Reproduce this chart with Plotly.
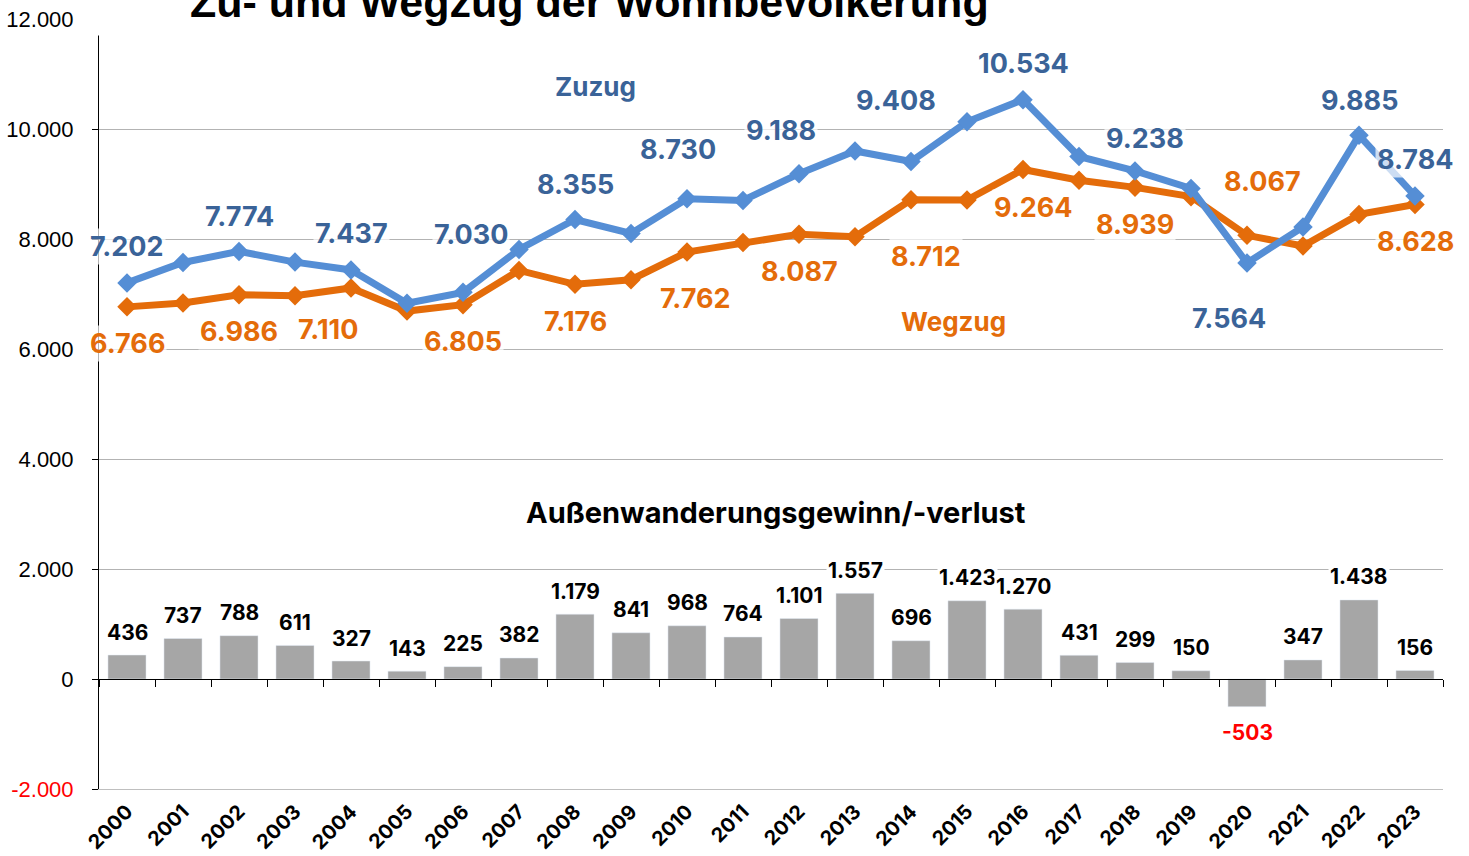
import plotly.graph_objects as go

years = [str(y) for y in range(2000, 2024)]
zuzug = [7202, 7573, 7774, 7580, 7437, 6833, 7030, 7810, 8355, 8100, 8730, 8700,
         9188, 9600, 9408, 10130, 10534, 9500, 9238, 8920, 7564, 8220, 9885, 8784]
wegzug = [6766, 6836, 6986, 6969, 7110, 6690, 6805, 7428, 7176, 7259, 7762, 7936,
          8087, 8043, 8712, 8707, 9264, 9069, 8939, 8770, 8067, 7873, 8447, 8628]
saldo = [436, 737, 788, 611, 327, 143, 225, 382, 1179, 841, 968, 764,
         1101, 1557, 696, 1423, 1270, 431, 299, 150, -503, 347, 1438, 156]
y_ticks = [-2000, 0, 2000, 4000, 6000, 8000, 10000, 12000]

# which points get labels, and their pixel offsets (dx, dy up)
zu_lab = {0: (0, 36), 2: (0, 35), 4: (0, 36), 6: (8, 58), 8: (0, 35), 10: (-9, 49),
          12: (-18, 43), 14: (-15, 61), 16: (0, 36), 18: (10, 32), 20: (-18, -56),
          22: (0, 35), 23: (0, 36)}
weg_lab = {0: (0, -37), 2: (0, -37), 4: (-23, -42), 6: (0, -37), 8: (0, -37),
           10: (8, -46), 12: (0, -37), 14: (15, -57), 16: (10, -38), 18: (0, -37),
           20: (15, 54), 23: (0, -37)}


def de(v):
    return f"{v:,}".replace(",", ".")


BLUE = "#558ed5"
BLUE_T = "#3a6398"
ORANGE = "#e46c0a"
LABEL_FONT = "Inter"

fig = go.Figure()
fig.add_trace(go.Bar(x=years, y=saldo, marker_color="#a6a6a6", xaxis="x2", yaxis="y",
                     hoverinfo="skip"))
fig.add_trace(go.Scatter(x=years, y=wegzug, mode="lines+markers",
                         line=dict(color=ORANGE, width=7),
                         marker=dict(symbol="diamond", size=15, color=ORANGE)))
fig.add_trace(go.Scatter(x=years, y=zuzug, mode="lines+markers",
                         line=dict(color=BLUE, width=7),
                         marker=dict(symbol="diamond", size=15, color=BLUE)))

ann = []
for i, (dx, dy) in zu_lab.items():
    ann.append(dict(x=i, y=zuzug[i], text=de(zuzug[i]), showarrow=False,
                    xshift=dx, yshift=dy, bgcolor="rgba(255,255,255,0.7)",
                    font=dict(family=LABEL_FONT, size=27, color=BLUE_T, weight="bold")))
for i, (dx, dy) in weg_lab.items():
    ann.append(dict(x=i, y=wegzug[i], text=de(wegzug[i]), showarrow=False,
                    xshift=dx, yshift=dy, bgcolor="rgba(255,255,255,0.7)",
                    font=dict(family=LABEL_FONT, size=27, color=ORANGE, weight="bold")))
for i, v in enumerate(saldo):
    ann.append(dict(x=i, y=v, text=de(v), showarrow=False,
                    yshift=23 if v >= 0 else -26, bgcolor="white",
                    font=dict(family=LABEL_FONT, size=21,
                              color="black" if v >= 0 else "red", weight="bold")))
ann.append(dict(x=8, y=10764, text="Zuzug", showarrow=False, xshift=20,
                font=dict(family=LABEL_FONT, size=26, color=BLUE_T, weight="bold")))
ann.append(dict(x=15, y=6509, text="Wegzug", showarrow=False, xshift=-14,
                font=dict(family=LABEL_FONT, size=26, color=ORANGE, weight="bold")))
ann.append(dict(x=0.504, xref="paper", y=3030, text="Außenwanderungsgewinn/-verlust",
                showarrow=False,
                font=dict(family=LABEL_FONT, size=29, color="black", weight="bold")))
ann.append(dict(x=0.365, xref="paper", y=1, yref="paper", yanchor="middle", yshift=17.5,
                text="Zu- und Wegzug der Wohnbevölkerung", showarrow=False,
                font=dict(family="Arial", size=43, color="black", weight="bold")))

ticktext = [f"<span style='color:red'>{de(t)}</span>" if t < 0 else de(t) for t in y_ticks]

fig.update_layout(
    width=1469, height=856,
    margin=dict(l=99, r=26, t=19, b=67),
    paper_bgcolor="white", plot_bgcolor="white",
    showlegend=False,
    bargap=0.32,
    annotations=ann,
    xaxis=dict(type="category", categoryorder="array", categoryarray=years,
               range=[-0.5, 23.5], showgrid=False, showline=True, linecolor="#bfbfbf",
               ticks="", tickangle=-45, automargin=False, ticklabelstandoff=2,
               tickfont=dict(family=LABEL_FONT, size=20, color="black", weight="bold")),
    xaxis2=dict(type="category", categoryorder="array", categoryarray=years,
                range=[-0.5, 23.5], overlaying="x", anchor="free", position=2 / 14,
                showgrid=False, showline=True, linecolor="black", linewidth=1,
                ticks="outside", tickson="boundaries", ticklen=7, tickcolor="black",
                showticklabels=False, automargin=False),
    yaxis=dict(range=[-2000, 12000], tickvals=y_ticks, ticktext=ticktext,
               showgrid=True, gridcolor="#b3b3b3", gridwidth=1, automargin=False,
               zeroline=False, showline=True, linecolor="black",
               ticks="outside", ticklen=6, tickcolor="black", ticklabelstandoff=14,
               tickfont=dict(family="Arial", size=22, color="black")),
    shapes=[dict(type="rect", xref="paper", yref="y", x0=-0.012, x1=0.741,
                 y0=11700, y1=12100, fillcolor="white", line=dict(width=0),
                 layer="above")],
)

fig.write_html("out.html", config={"displayModeBar": False},
               post_script="document.body.style.margin='0';document.body.style.padding='0';")
